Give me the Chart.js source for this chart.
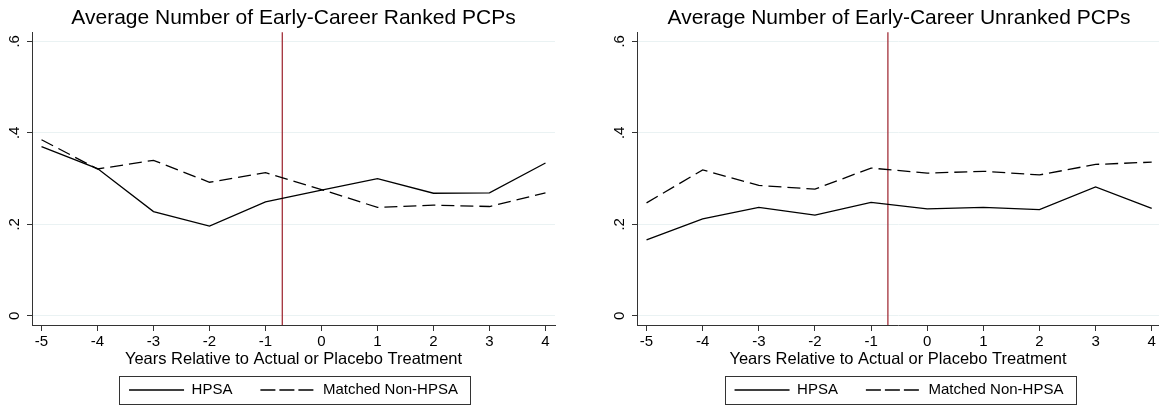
<!DOCTYPE html>
<html lang="en">
<head>
  <meta charset="UTF-8" />
  <title>Early-Career PCPs</title>
  <script src="https://cdn.jsdelivr.net/npm/chart.js"></script>
  <style>
    html, body { margin: 0; padding: 0; background: #fff; overflow: hidden; }
    body { width: 1159px; height: 406px; position: relative; }
    canvas { position: absolute; top: 0; }
    #ranked { left: 0; }
    #unranked { left: 610px; }
  </style>
</head>
<body>
  <canvas id="ranked" width="587" height="406"></canvas>
  <canvas id="unranked" width="578" height="406"></canvas>

  <script>
    // event time and axis labels
    const years = [-5, -4, -3, -2, -1, 0, 1, 2, 3, 4];
    const yearLabels = ['-5', '-4', '-3', '-2', '-1', '0', '1', '2', '3', '4'];
    const yTicks = [0, 0.2, 0.4, 0.6];
    const yTickLabels = ['0', '.2', '.4', '.6'];
    const treatYear = -0.7;

    // ranked PCPs
    const rankedHpsa    = [0.370, 0.322, 0.228, 0.196, 0.249, 0.275, 0.300, 0.268, 0.269, 0.334];
    const rankedMatched = [0.385, 0.321, 0.340, 0.292, 0.313, 0.276, 0.237, 0.242, 0.239, 0.269];

    // unranked PCPs
    const unrankedHpsa    = [0.166, 0.212, 0.237, 0.220, 0.248, 0.234, 0.237, 0.232, 0.282, 0.235];
    const unrankedMatched = [0.247, 0.319, 0.285, 0.277, 0.323, 0.312, 0.316, 0.308, 0.331, 0.336];

    const FONT = "'Liberation Sans', Arial, Helvetica, sans-serif";
    const AXIS = '#333';

    // vertical marker at the treatment date
    const treatLine = {
      id: 'treatLine',
      beforeDatasetsDraw(chart) {
        const { ctx, chartArea: { top, bottom }, scales: { x } } = chart;
        const px = x.getPixelForValue(treatYear);
        ctx.save();
        ctx.strokeStyle = '#a3303a';
        ctx.lineWidth = 1.3;
        ctx.beginPath();
        ctx.moveTo(px, top);
        ctx.lineTo(px, bottom);
        ctx.stroke();
        ctx.restore();
      }
    };

    // framed legend, Stata style
    const legendFrame = {
      id: 'legendFrame',
      afterDraw(chart) {
        const boxes = chart.legend && chart.legend.legendHitBoxes;
        if (!boxes || !boxes.length) return;
        const left = Math.min(...boxes.map(b => b.left)) - 10;
        const right = Math.max(...boxes.map(b => b.left + b.width)) + 12;
        const cy = boxes[0].top + boxes[0].height / 2;
        const ctx = chart.ctx;
        ctx.save();
        ctx.strokeStyle = AXIS;
        ctx.lineWidth = 1;
        ctx.strokeRect(Math.round(left) + 0.5, Math.round(cy - 14) + 0.5, Math.round(right - left), 28);
        ctx.restore();
      }
    };

    function series(vals) {
      return years.map((x, i) => ({ x: x, y: vals[i] }));
    }

    function makeChart(id, title, hpsa, matched, yAxisWidth, padRight, xMax) {
      const ctx = document.getElementById(id).getContext('2d');
      return new Chart(ctx, {
        type: 'line',
        data: {
          datasets: [
            {
              label: 'HPSA',
              data: series(hpsa),
              borderColor: '#000',
              borderWidth: 1.3,
              pointRadius: 0,
              tension: 0,
              fill: false
            },
            {
              label: 'Matched Non-HPSA',
              data: series(matched),
              borderColor: '#000',
              borderWidth: 1.3,
              borderDash: [13, 6],
              pointRadius: 0,
              tension: 0,
              fill: false
            }
          ]
        },
        options: {
          responsive: false,
          animation: false,
          layout: { padding: 0 },
          plugins: {
            title: {
              display: true,
              text: title,
              color: '#000',
              font: { family: FONT, size: 21, weight: 'normal' },
              padding: { top: 6, bottom: 1 }
            },
            legend: {
              position: 'bottom',
              maxHeight: 51.5,
              labels: {
                boxWidth: 55,
                boxHeight: 0,
                color: '#000',
                font: { family: FONT, size: 15 },
                padding: 28
              }
            },
            tooltip: { enabled: false }
          },
          scales: {
            x: {
              type: 'linear',
              min: -5.17,
              max: xMax,
              afterBuildTicks: s => { s.ticks = years.map(v => ({ value: v })); },
              afterFit: s => { s.height = 29.5; s.paddingLeft = 0; s.paddingRight = padRight; },
              grid: { drawOnChartArea: false, tickLength: 6, tickColor: AXIS },
              border: { color: AXIS, width: 1 },
              ticks: {
                color: '#000',
                font: { family: FONT, size: 15 },
                padding: 2,
                maxRotation: 0,
                autoSkip: false,
                callback: (v, i) => yearLabels[i]
              },
              title: {
                display: true,
                text: 'Years Relative to Actual or Placebo Treatment',
                color: '#000',
                font: { family: FONT, size: 16.5 },
                padding: { top: 0, bottom: -14.4 }
              }
            },
            y: {
              min: -0.02,
              max: 0.62,
              afterBuildTicks: s => { s.ticks = yTicks.map(v => ({ value: v })); },
              afterFit: s => { s.width = yAxisWidth; s.paddingTop = 0; s.paddingBottom = 0; },
              grid: { color: 'rgb(234,242,243)', tickColor: AXIS, tickLength: 5 },
              border: { color: AXIS, width: 1 },
              ticks: {
                color: '#000',
                font: { family: FONT, size: 15 },
                minRotation: 90,
                maxRotation: 90,
                crossAlign: 'center',
                padding: 6,
                callback: (v, i) => yTickLabels[i]
              }
            }
          }
        },
        plugins: [treatLine, legendFrame]
      });
    }

    makeChart('ranked', 'Average Number of Early-Career Ranked PCPs',
      rankedHpsa, rankedMatched, 32, 32, 4.17);
    makeChart('unranked', 'Average Number of Early-Career Unranked PCPs',
      unrankedHpsa, unrankedMatched, 27, 29, 4.13);
  </script>
</body>
</html>
